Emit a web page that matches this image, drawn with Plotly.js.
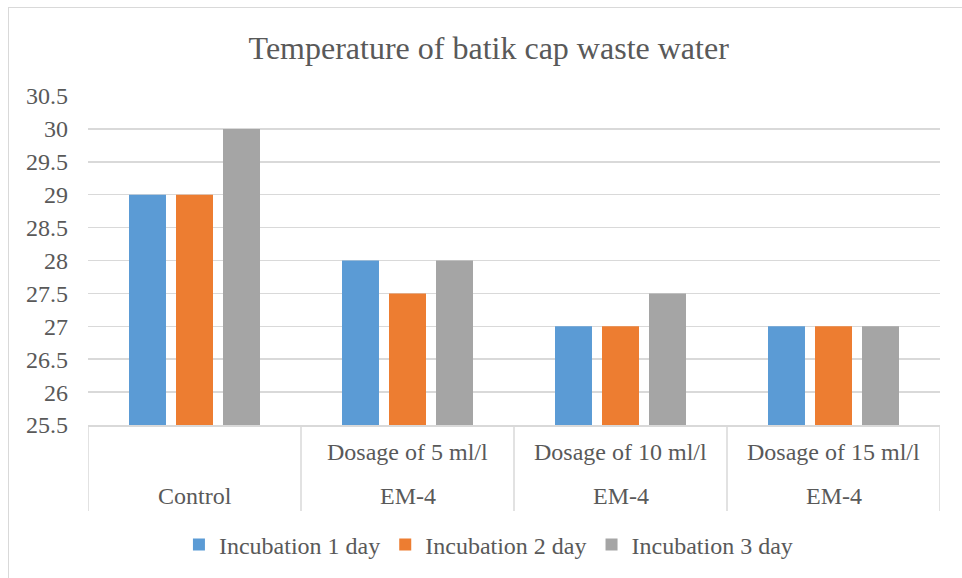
<!DOCTYPE html>
<html>
<head>
<meta charset="utf-8">
<script src="https://cdn.plot.ly/plotly-3.0.1.min.js"></script>
<style>
  html, body { margin: 0; padding: 0; background: #fff; }
  #wrap { position: relative; width: 962px; height: 578px; overflow: hidden; }
  #chart { width: 962px; height: 578px; }
  #frame { position: absolute; left: 8px; top: 7px; width: 1000px; height: 600px; border: 1px solid #D9D9D9; pointer-events: none; }
</style>
</head>
<body>
<div id="wrap"><div id="chart"></div><div id="frame"></div></div>
<script>
const categories = ["Control", "Dosage of 5 ml/l EM-4", "Dosage of 10 ml/l EM-4", "Dosage of 15 ml/l EM-4"];
const innerLabels = ["", "Dosage of 5 ml/l", "Dosage of 10 ml/l", "Dosage of 15 ml/l"];
const outerLabels = ["Control", "EM-4", "EM-4", "EM-4"];
const seriesNames = ["Incubation 1 day", "Incubation 2 day", "Incubation 3 day"];
const day1 = [29, 28, 27, 27];
const day2 = [29, 27.5, 27, 27];
const day3 = [30, 28, 27.5, 27];
const yTicks = [25.5, 26, 26.5, 27, 27.5, 28, 28.5, 29, 29.5, 30, 30.5];

const colors = ["#5B9BD5", "#ED7D31", "#A5A5A5"];
const FONT = "Liberation Serif, Times New Roman, serif";
const TXT = "#595959";

const seriesValues = [day1, day2, day3];
const traces = seriesValues.map((vals, i) => ({
  type: "bar",
  name: seriesNames[i],
  x: categories,
  y: vals.map(v => v - 25.5),
  base: 25.5,
  marker: { color: colors[i] },
  hoverinfo: "skip"
}));

const annotations = [];
categories.forEach((c, i) => {
  if (innerLabels[i]) annotations.push({
    xref: "x", yref: "paper", x: c, y: 0, yanchor: "middle", yshift: -27,
    text: innerLabels[i], showarrow: false, font: { family: FONT, size: 24, color: TXT }
  });
  annotations.push({
    xref: "x", yref: "paper", x: c, y: 0, yanchor: "middle", yshift: -71,
    text: outerLabels[i], showarrow: false, font: { family: FONT, size: 24, color: TXT }
  });
});

const shapes = [];
for (let k = 0; k <= categories.length; k++) {
  shapes.push({
    type: "line", xref: "x", yref: "paper", ysizemode: "pixel", yanchor: 0,
    x0: k - 0.5, x1: k - 0.5, y0: 0, y1: -86,
    line: { color: "#D9D9D9", width: 1.5 }
  });
}

const layout = {
  width: 962, height: 578,
  margin: { l: 88, r: 22, t: 96, b: 152 },
  paper_bgcolor: "rgba(0,0,0,0)",
  plot_bgcolor: "#fff",
  font: { family: FONT, color: TXT },
  title: {
    text: "Temperature of batik cap waste water",
    font: { family: FONT, size: 32, color: TXT },
    x: 0.508, xanchor: "center", xref: "container",
    y: 0.918, yanchor: "middle", yref: "container"
  },
  barmode: "group",
  bargap: 0.338,
  bargroupgap: 0.213,
  xaxis: {
    type: "category",
    showticklabels: false,
    showline: true, linecolor: "#D9D9D9", linewidth: 1.5,
    showgrid: false, zeroline: false, ticks: "",
    range: [-0.5, categories.length - 0.5]
  },
  yaxis: {
    range: [25.5, 30.5],
    tickvals: yTicks,
    ticktext: yTicks.map(String),
    showgrid: true, gridcolor: "#D9D9D9", gridwidth: 1.5,
    zeroline: false, showline: false, ticks: "",
    ticklabelstandoff: 19,
    tickfont: { family: FONT, size: 24, color: TXT }
  },
  showlegend: true,
  legend: {
    orientation: "h",
    x: 0.47, xanchor: "center",
    y: -0.36, yanchor: "middle",
    font: { family: FONT, size: 24, color: TXT },
    itemclick: false, itemdoubleclick: false
  },
  annotations: annotations,
  shapes: shapes
};

Plotly.newPlot("chart", traces, layout, { displayModeBar: false, staticPlot: true });
</script>
</body>
</html>
